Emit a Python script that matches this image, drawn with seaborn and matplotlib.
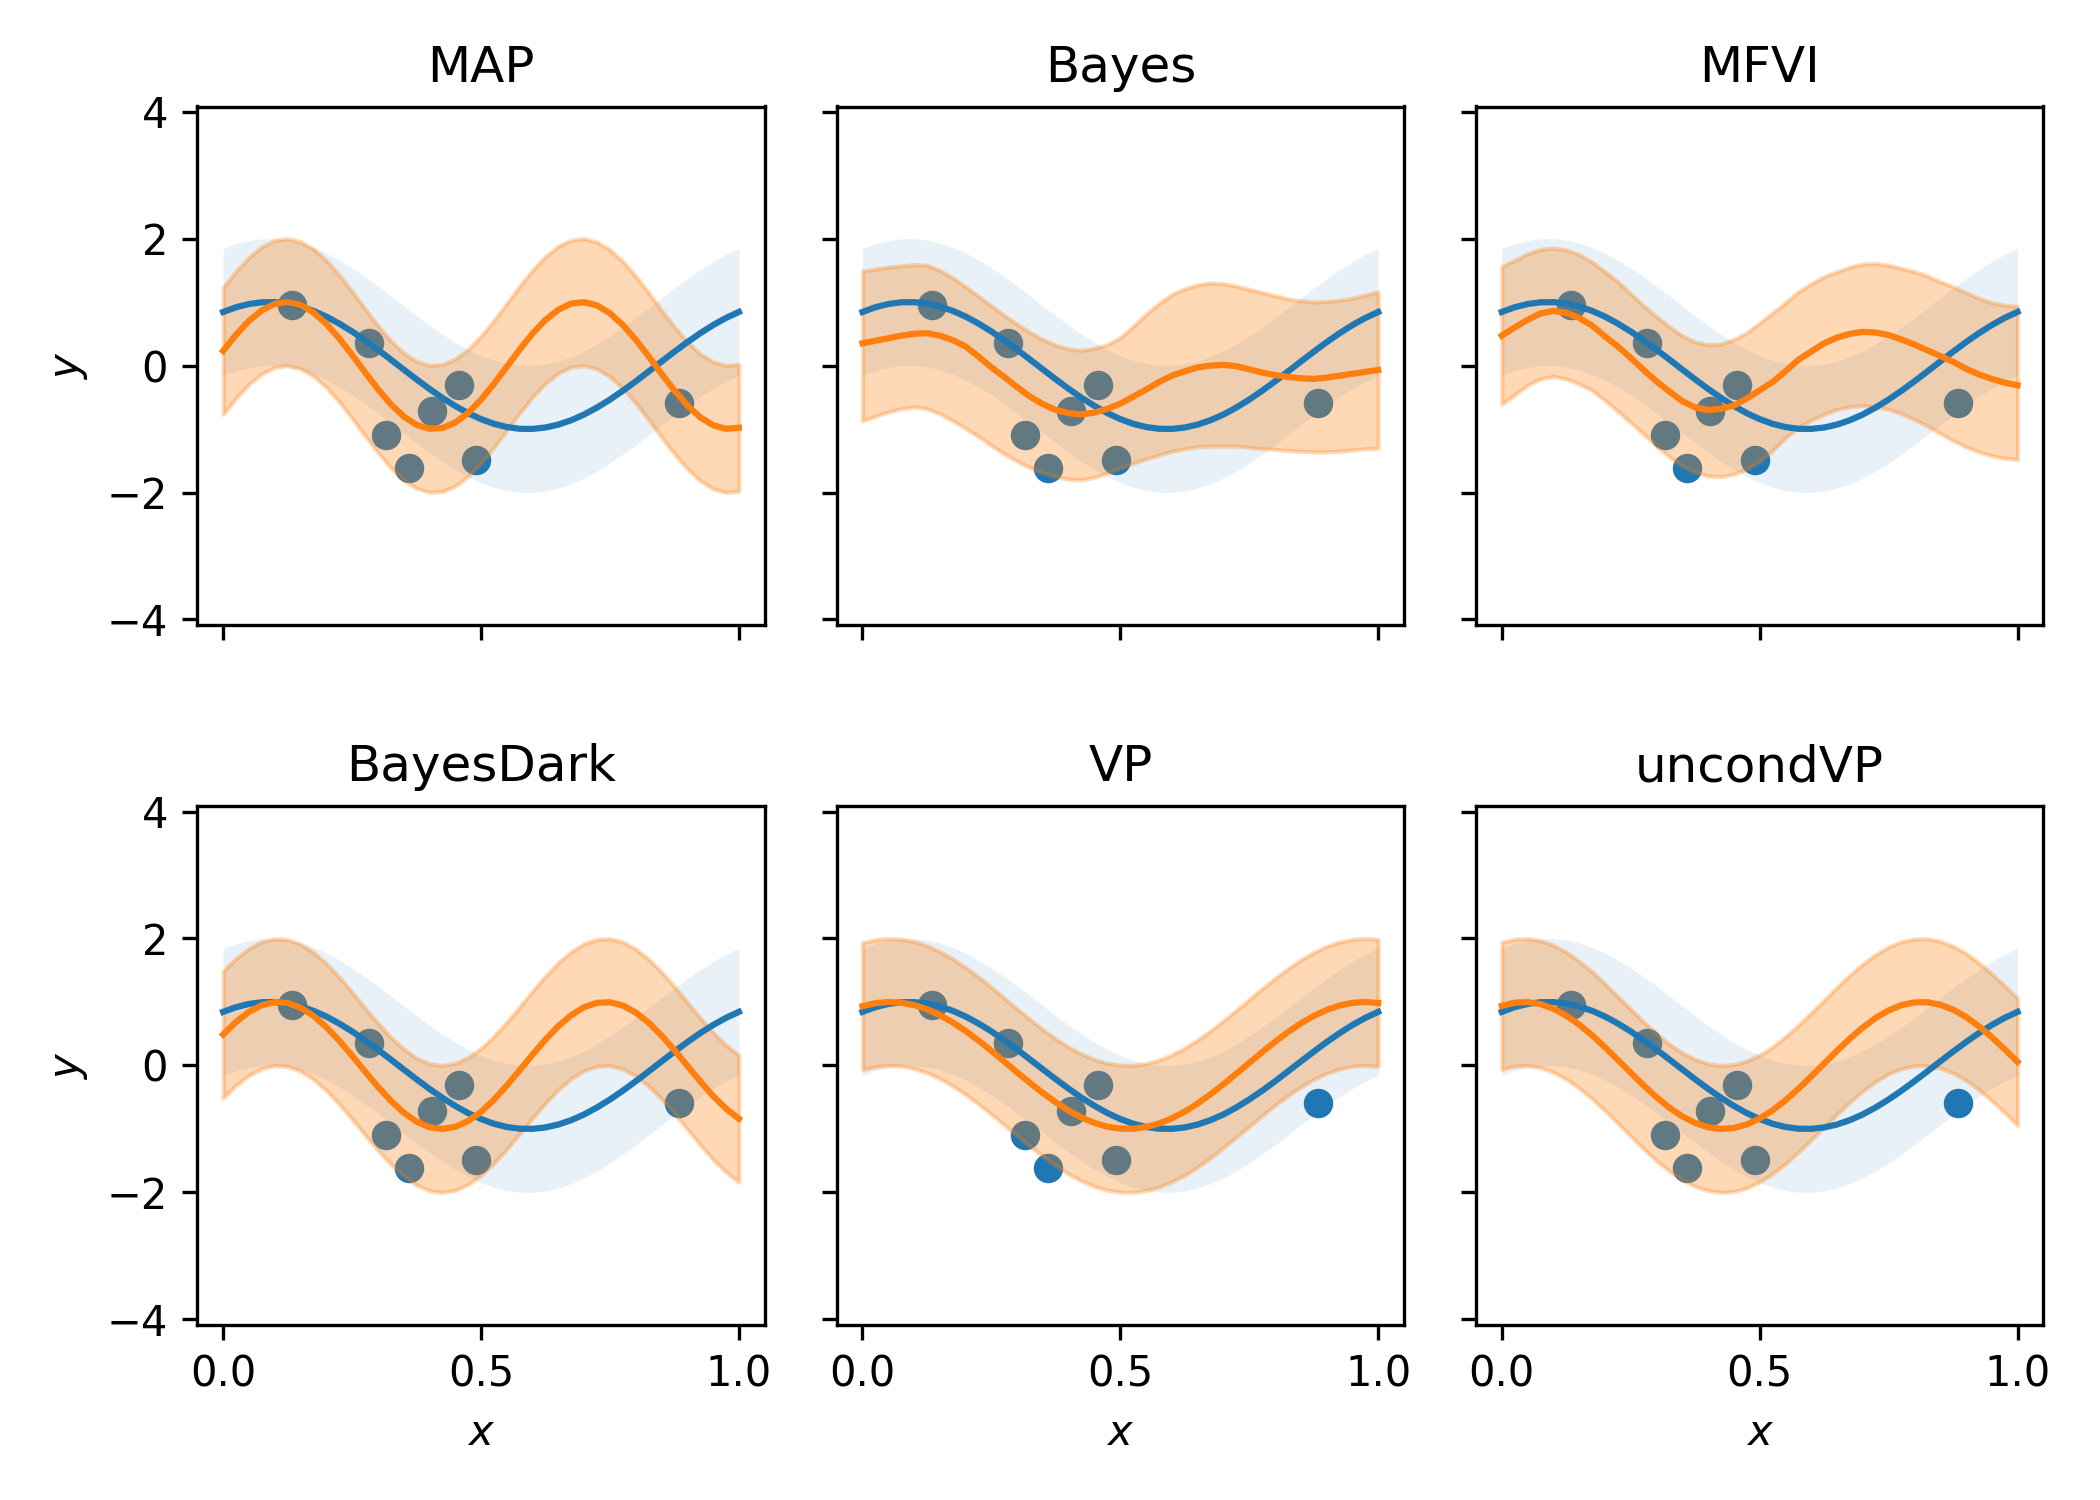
import numpy as np
import matplotlib
matplotlib.use("Agg")
import matplotlib.pyplot as plt
import seaborn as sns

# ---------------- data ----------------
X_GRID = [0.0, 0.025, 0.05, 0.075, 0.1, 0.125, 0.15, 0.175, 0.2, 0.225,
          0.25, 0.275, 0.3, 0.325, 0.35, 0.375, 0.4, 0.425, 0.45, 0.475,
          0.5, 0.525, 0.55, 0.575, 0.6, 0.625, 0.65, 0.675, 0.7, 0.725,
          0.75, 0.775, 0.8, 0.825, 0.85, 0.875, 0.9, 0.925, 0.95, 0.975, 1.0]

TRUE_Y = [0.844, 0.918, 0.969, 0.996, 0.998, 0.976, 0.930, 0.861, 0.771, 0.661,
          0.536, 0.397, 0.249, 0.094, -0.063, -0.218, -0.368, -0.509, -0.637, -0.750,
          -0.844, -0.918, -0.969, -0.996, -0.998, -0.976, -0.930, -0.861, -0.771, -0.661,
          -0.536, -0.397, -0.249, -0.094, 0.063, 0.218, 0.368, 0.509, 0.637, 0.750, 0.844]
TRUE_STD = 1.0

OBS_X = [0.134, 0.282, 0.316, 0.360, 0.404, 0.457, 0.491, 0.884]
OBS_Y = [0.96, 0.35, -1.10, -1.61, -0.715, -0.30, -1.49, -0.59]

MAP_MEAN = [0.232, 0.486, 0.704, 0.870, 0.971, 0.999, 0.953, 0.836, 0.656, 0.427,
            0.167, -0.106, -0.371, -0.609, -0.802, -0.934, -0.996, -0.984, -0.898, -0.746,
            -0.537, -0.289, -0.019, 0.252, 0.505, 0.719, 0.880, 0.976, 0.998, 0.946,
            0.823, 0.639, 0.407, 0.145, -0.129, -0.392, -0.627, -0.815, -0.940, -0.997, -0.980]
MAP_STD = 1.0

BAYES_MEAN = [0.35, 0.39, 0.43, 0.47, 0.50, 0.51, 0.47, 0.40, 0.30, 0.14,
              -0.03, -0.18, -0.34, -0.49, -0.61, -0.70, -0.75, -0.77, -0.74, -0.68,
              -0.60, -0.49, -0.38, -0.26, -0.16, -0.09, -0.03, 0.00, 0.01, -0.01,
              -0.06, -0.11, -0.15, -0.18, -0.20, -0.21, -0.19, -0.16, -0.13, -0.10, -0.07]
BAYES_UPPER = [1.49, 1.52, 1.55, 1.57, 1.59, 1.58, 1.50, 1.38, 1.24, 1.09,
               0.94, 0.79, 0.65, 0.52, 0.41, 0.32, 0.26, 0.24, 0.27, 0.33,
               0.44, 0.62, 0.81, 0.98, 1.12, 1.21, 1.27, 1.30, 1.29, 1.25,
               1.20, 1.15, 1.10, 1.05, 1.02, 1.00, 1.01, 1.03, 1.06, 1.11, 1.16]
BAYES_LOWER = [-0.87, -0.80, -0.73, -0.68, -0.65, -0.68, -0.76, -0.87, -0.99, -1.12,
               -1.26, -1.39, -1.51, -1.61, -1.69, -1.75, -1.79, -1.80, -1.76, -1.69,
               -1.61, -1.54, -1.47, -1.41, -1.35, -1.31, -1.28, -1.27, -1.27, -1.27,
               -1.29, -1.31, -1.32, -1.34, -1.35, -1.36, -1.36, -1.35, -1.33, -1.31, -1.30]

MFVI_MEAN = [0.47, 0.60, 0.72, 0.82, 0.86, 0.83, 0.75, 0.63, 0.46, 0.30,
             0.12, -0.07, -0.25, -0.41, -0.56, -0.66, -0.70, -0.68, -0.63, -0.52,
             -0.39, -0.26, -0.09, 0.09, 0.22, 0.35, 0.44, 0.50, 0.53, 0.52,
             0.48, 0.41, 0.33, 0.24, 0.15, 0.06, -0.05, -0.14, -0.21, -0.27, -0.31]
MFVI_UPPER = [1.56, 1.66, 1.76, 1.83, 1.85, 1.82, 1.75, 1.63, 1.48, 1.32,
              1.13, 0.94, 0.77, 0.61, 0.47, 0.37, 0.33, 0.34, 0.41, 0.52,
              0.67, 0.83, 0.99, 1.16, 1.29, 1.40, 1.48, 1.55, 1.60, 1.61,
              1.58, 1.53, 1.48, 1.41, 1.32, 1.24, 1.15, 1.06, 0.99, 0.95, 0.93]
MFVI_LOWER = [-0.61, -0.46, -0.31, -0.21, -0.17, -0.21, -0.29, -0.39, -0.55, -0.72,
              -0.90, -1.08, -1.27, -1.44, -1.58, -1.68, -1.74, -1.75, -1.71, -1.63,
              -1.51, -1.34, -1.14, -0.97, -0.86, -0.77, -0.69, -0.65, -0.63, -0.65,
              -0.69, -0.76, -0.85, -0.95, -1.07, -1.18, -1.28, -1.36, -1.42, -1.46, -1.48]

BAYESDARK_MEAN = [0.488, 0.687, 0.844, 0.950, 0.998, 0.984, 0.911, 0.782, 0.605, 0.391,
                  0.153, -0.094, -0.335, -0.556, -0.743, -0.885, -0.972, -1.000, -0.967, -0.875,
                  -0.730, -0.540, -0.317, -0.075, 0.172, 0.408, 0.620, 0.793, 0.918, 0.987,
                  0.996, 0.944, 0.834, 0.673, 0.472, 0.242, -0.005, -0.250, -0.481, -0.680, -0.839]
BAYESDARK_STD = 1.0

VP_MEAN = [0.933, 0.981, 1.000, 0.990, 0.951, 0.885, 0.792, 0.678, 0.543, 0.392,
           0.230, 0.061, -0.110, -0.276, -0.435, -0.582, -0.712, -0.821, -0.906, -0.965,
           -0.995, -0.997, -0.970, -0.914, -0.832, -0.726, -0.598, -0.454, -0.296, -0.129,
           0.040, 0.210, 0.373, 0.525, 0.663, 0.780, 0.875, 0.944, 0.987, 1.000, 0.984]
VP_STD = 1.0

UNCONDVP_MEAN = [0.939, 0.989, 0.998, 0.966, 0.894, 0.785, 0.643, 0.476, 0.287, 0.087,
                 -0.115, -0.314, -0.500, -0.665, -0.802, -0.906, -0.973, -1.000, -0.985, -0.929,
                 -0.835, -0.707, -0.549, -0.368, -0.172, 0.030, 0.232, 0.424, 0.598, 0.748,
                 0.867, 0.950, 0.993, 0.996, 0.957, 0.879, 0.765, 0.618, 0.446, 0.256, 0.056]
UNCONDVP_STD = 1.0

TITLES = ["MAP", "Bayes", "MFVI", "BayesDark", "VP", "uncondVP"]
X_TICKS = [0.0, 0.5, 1.0]
Y_TICKS = [-4, -2, 0, 2, 4]

# build per-panel band tables
def const_band(mean, std):
    m = np.asarray(mean)
    return m - std, m + std

panels = [
    (MAP_MEAN, *const_band(MAP_MEAN, MAP_STD)),
    (BAYES_MEAN, BAYES_LOWER, BAYES_UPPER),
    (MFVI_MEAN, MFVI_LOWER, MFVI_UPPER),
    (BAYESDARK_MEAN, *const_band(BAYESDARK_MEAN, BAYESDARK_STD)),
    (VP_MEAN, *const_band(VP_MEAN, VP_STD)),
    (UNCONDVP_MEAN, *const_band(UNCONDVP_MEAN, UNCONDVP_STD)),
]

BLUE = "#1f77b4"
ORANGE = "#ff7f0e"

fig, axes = plt.subplots(2, 3, figsize=(7, 5), dpi=300, sharex=True, sharey=True)
fig.subplots_adjust(left=0.094, right=0.973, top=0.929, bottom=0.117,
                    wspace=0.127, hspace=0.351)

xg = np.asarray(X_GRID)
ty = np.asarray(TRUE_Y)
for ax, title, (mean, lower, upper) in zip(axes.flat, TITLES, panels):
    ax.fill_between(xg, ty - TRUE_STD, ty + TRUE_STD, color=BLUE, alpha=0.1,
                    linewidth=0, zorder=1)
    sns.scatterplot(x=OBS_X, y=OBS_Y, ax=ax, color=BLUE, s=50, linewidth=0,
                    zorder=2, legend=False)
    ax.fill_between(xg, lower, upper, color=ORANGE, alpha=0.3, zorder=3)
    sns.lineplot(x=xg, y=ty, ax=ax, color=BLUE, linewidth=1.5, zorder=4,
                 legend=False)
    sns.lineplot(x=xg, y=np.asarray(mean), ax=ax, color=ORANGE, linewidth=1.5,
                 zorder=5, legend=False)
    ax.set_title(title, fontsize=12)
    ax.set_xlim(-0.05, 1.05)
    ax.set_ylim(-4.08, 4.08)
    ax.set_xticks(X_TICKS)
    ax.set_yticks(Y_TICKS)
    ax.set_xlabel("$x$")
    ax.set_ylabel("$y$" if ax in axes[:, 0] else "")

fig.savefig("out.png", dpi=300)
